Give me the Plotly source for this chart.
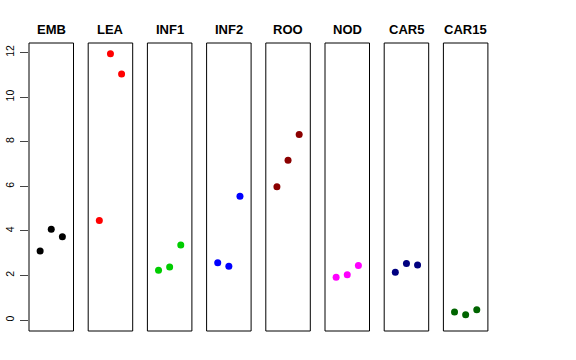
import plotly.graph_objects as go

panels = ["EMB", "LEA", "INF1", "INF2", "ROO", "NOD", "CAR5", "CAR15"]
colors = ["#000000", "#FF0000", "#00CD00", "#0000FF", "#8B0000", "#FF00FF", "#000080", "#006400"]
rep_x = [1, 2, 3]
emb = [3.10, 4.07, 3.74]
lea = [4.47, 11.95, 11.04]
inf1 = [2.23, 2.38, 3.37]
inf2 = [2.57, 2.41, 5.55]
roo = [5.98, 7.17, 8.32]
nod = [1.92, 2.03, 2.45]
car5 = [2.15, 2.54, 2.47]
car15 = [0.36, 0.24, 0.46]
values = [emb, lea, inf1, inf2, roo, nod, car5, car15]
y_ticks = [0, 2, 4, 6, 8, 10, 12]

W, H = 576, 360
ml, mr, mt, mb = 29, 88, 43, 29
plot_w = W - ml - mr
pitch = 59.2
pw = 44.5

fig = go.Figure()
layout = {}
shapes = []
annotations = []
for i, (name, col, vals) in enumerate(zip(panels, colors, values)):
    sfx = "" if i == 0 else str(i + 1)
    fig.add_trace(go.Scatter(x=rep_x, y=vals, mode="markers",
                             marker=dict(color=col, size=7),
                             xaxis="x" + sfx, yaxis="y" + sfx, showlegend=False))
    x0 = (pitch * i) / plot_w
    x1 = min(1.0, (pitch * i + pw) / plot_w)
    layout["xaxis" + sfx] = dict(domain=[x0, x1], range=[0, 4], showgrid=False,
                                 zeroline=False, showticklabels=False, ticks="",
                                 anchor="y" + sfx, fixedrange=True, automargin=False)
    yax = dict(range=[-0.49, 12.43], showgrid=False, zeroline=False,
               anchor="x" + sfx, domain=[0, 1], automargin=False)
    if i == 0:
        yax.update(tickvals=y_ticks, ticktext=[str(v) for v in y_ticks],
                   ticks="outside", ticklen=8, tickcolor="#444", tickwidth=1,
                   tickangle=-90, tickfont=dict(size=10.5, color="#000",
                                                family="Liberation Sans, Arial, sans-serif"),
                   ticklabelstandoff=2)
    else:
        yax.update(showticklabels=False, ticks="", matches="y")
    layout["yaxis" + sfx] = yax
    shapes.append(dict(type="rect", xref="x" + sfx + " domain", yref="y domain",
                       x0=0, x1=1, y0=0, y1=1, line=dict(color="#000", width=1)))
    annotations.append(dict(text="<b>" + name + "</b>", xref="x" + sfx + " domain",
                            yref="paper", x=0.5, y=1, yshift=13.5, showarrow=False,
                            yanchor="middle", xanchor="center",
                            font=dict(size=13, color="#000",
                                      family="Liberation Sans, Arial, sans-serif")))

fig.update_layout(**layout)
fig.update_layout(width=W, height=H, margin=dict(l=ml, r=mr, t=mt, b=mb, autoexpand=False),
                  plot_bgcolor="white", paper_bgcolor="white",
                  shapes=shapes, annotations=annotations)
fig.write_html("out.html", config={"displayModeBar": False},
               post_script="document.body.style.margin='0';")
